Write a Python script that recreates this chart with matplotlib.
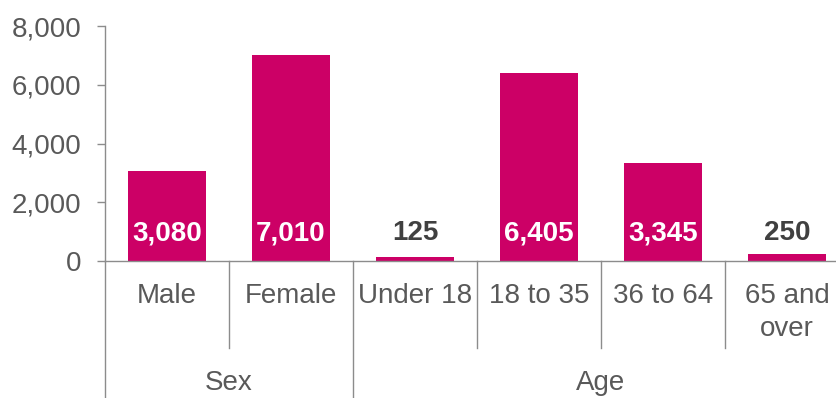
import numpy as np
import matplotlib.pyplot as plt

plt.rcParams['font.family'] = ['Liberation Sans', 'DejaVu Sans']

categories = ['Male', 'Female', 'Under 18', '18 to 35', '36 to 64', '65 and\nover']
values = [3080, 7010, 125, 6405, 3345, 250]
groups = ['Sex', 'Age']
group_sizes = [2, 4]

bar_color = '#CC0066'
text_gray = '#595959'
line_gray = '#8C8C8C'

fig = plt.figure(figsize=(8.37, 3.98), dpi=100)
# axes runs a little past the right edge, so the last slot is cut off
ax = fig.add_axes([105/837, 137/398, 744/837, 235/398])

x = np.arange(len(values))
ax.bar(x, values, width=0.63, color=bar_color)

ax.set_xlim(-0.5, len(values) - 0.5)
ax.set_ylim(0, 8000)
ax.set_yticks([0, 2000, 4000, 6000, 8000])
ax.set_yticklabels(['{:,}'.format(v) for v in [0, 2000, 4000, 6000, 8000]])
ax.tick_params(axis='y', length=6, width=1, color=line_gray, pad=11,
               labelsize=20, labelcolor=text_gray)
ax.set_xticks([])

for s in ['top', 'right']:
    ax.spines[s].set_visible(False)
for s in ['left', 'bottom']:
    ax.spines[s].set_color(line_gray)
    ax.spines[s].set_linewidth(1)

# value labels: white inside tall bars, gray above short ones
for xi, v in zip(x, values):
    if v > 1000:
        col = 'white'
    else:
        col = '#404040'
    ax.annotate('{:,}'.format(v), (xi, 0), xytext=(0, 20), textcoords='offset points',
                ha='center', va='center', fontsize=20, fontweight='bold', color=col)

trans = ax.get_xaxis_transform()

# category labels
for xi, c in zip(x, categories):
    ax.text(xi, -0.095, c, transform=trans, ha='center', va='top',
            fontsize=20, color=text_gray, linespacing=1.35)

# separators and group labels
start = 0
ax.plot([-0.5, -0.5], [0, -0.6], transform=trans, color=line_gray, lw=1, clip_on=False)
for g, n in zip(groups, group_sizes):
    for k in range(start + 1, start + n):
        ax.plot([k - 0.5, k - 0.5], [0, -0.37], transform=trans,
                color=line_gray, lw=1, clip_on=False)
    end = start + n
    ax.plot([end - 0.5, end - 0.5], [0, -0.6], transform=trans,
            color=line_gray, lw=1, clip_on=False)
    ax.text((start + end - 1) / 2, -0.52, g, transform=trans, ha='center', va='center',
            fontsize=20, color=text_gray)
    start = end

fig.savefig('out.png', dpi=100)
